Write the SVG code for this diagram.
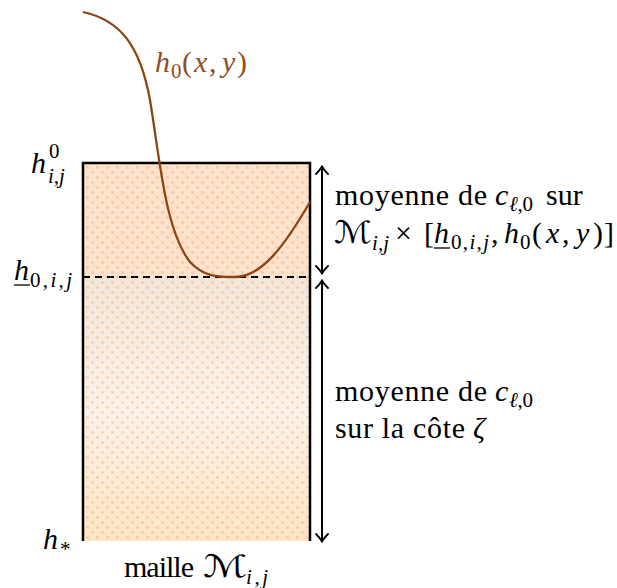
<svg xmlns="http://www.w3.org/2000/svg" width="617" height="588" viewBox="0 0 617 588">
<style>
.t{font-family:"Liberation Serif",serif;font-size:30px;fill:#000}
.i{font-style:italic}
.s{font-size:21px}
.cal{font-family:"DejaVu Serif","DejaVu Sans",serif;font-style:italic;font-size:31px}
.ax{stroke:#000;stroke-width:2;fill:none}
.br{fill:#8f4e24}
</style>
<defs>
<pattern id="dots" width="10" height="10" patternUnits="userSpaceOnUse">
<circle cx="2.5" cy="2.5" r="1.4" fill="#f08a30" fill-opacity="0.3"/>
<circle cx="7.5" cy="7.5" r="1.4" fill="#f08a30" fill-opacity="0.3"/>
</pattern>
<linearGradient id="low" x1="0" y1="0" x2="0" y2="1">
<stop offset="0" stop-color="#f4e6d9"/>
<stop offset="0.5" stop-color="#fcf2ea"/>
<stop offset="1" stop-color="#ffe5c4"/>
</linearGradient>
<marker id="ah" viewBox="0 0 10 14" markerWidth="10" markerHeight="14" refX="8" refY="7" orient="auto-start-reverse" markerUnits="userSpaceOnUse">
<path d="M1,1 Q5,5 8.5,7 Q5,9 1,13" fill="none" stroke="#000" stroke-width="1.8" stroke-linecap="round"/>
</marker>
</defs>

<g id="cell">
<rect x="83" y="163" width="227" height="114" fill="#fde3cd"/>
<rect x="83" y="163" width="227" height="114" fill="url(#dots)"/>
<rect x="83" y="277" width="227" height="264" fill="url(#low)"/>
<rect x="83" y="277" width="227" height="264" fill="url(#dots)"/>
<path d="M83,541 V163 H310 V541" fill="none" stroke="#000" stroke-width="2.5"/>
<line x1="83" y1="277" x2="310" y2="277" stroke="#000" stroke-width="2" stroke-dasharray="7,5"/>
</g>

<g id="curve">
<path d="M83,12 C120,20 140,45 150,100 C160,160 165,230 190,262 C205,278 220,277 235,277 C262,277 285,245 310,202" fill="none" stroke="#8b4513" stroke-width="2.3"/>
<text class="t br i" x="155" y="72">h</text>
<text class="t br s" x="171" y="78">0</text>
<text class="t br" x="182" y="72">(</text>
<text class="t br i" x="194" y="72">x</text>
<text class="t br" x="209" y="72">,</text>
<text class="t br i" x="222" y="72">y</text>
<text class="t br" x="237" y="72">)</text>
</g>

<g id="connectors">
<line class="ax" x1="322" y1="167" x2="322" y2="273" marker-start="url(#ah)" marker-end="url(#ah)"/>
<line class="ax" x1="322" y1="281" x2="322" y2="541" marker-start="url(#ah)" marker-end="url(#ah)"/>
</g>

<g id="label-hij0">
<text class="t i" x="31" y="173">h</text>
<text class="t s" x="49" y="158">0</text>
<text class="t s i" x="48" y="183">i,j</text>
</g>
<g id="label-h0ij">
<text class="t i" x="14" y="280">h</text>
<text class="t s" x="30" y="287" textLength="42" lengthAdjust="spacing">0,<tspan class="i">i,j</tspan></text>
<line x1="14" y1="285" x2="30" y2="285" stroke="#000" stroke-width="1.3"/>
</g>
<g id="label-hstar">
<text class="t i" x="43" y="549">h</text>
<text class="t s" x="60" y="556">*</text>
</g>
<g id="label-maille">
<text class="t" x="124" y="577" textLength="70" lengthAdjust="spacing">maille</text>
<text class="t cal" transform="translate(203,577) scale(1.35,1)">ℳ</text>
<text class="t s i" x="246" y="584" textLength="22" lengthAdjust="spacing">i,j</text>
</g>

<g id="label-upper">
<text class="t" x="335" y="205" textLength="152" lengthAdjust="spacing">moyenne de</text>
<text class="t i" x="495" y="205">c</text>
<text class="t s" x="509" y="211" textLength="24" lengthAdjust="spacing"><tspan class="i">ℓ</tspan>,0</text>
<text class="t" x="546" y="205">sur</text>
<text class="t cal" transform="translate(334,243) scale(1.15,1)">ℳ</text>
<text class="t s i" x="372" y="250" textLength="17" lengthAdjust="spacing">i,j</text>
<text class="t" x="395" y="243">×</text>
<text class="t" x="424" y="243">[</text>
<text class="t i" x="434" y="243">h</text>
<line x1="434" y1="248" x2="450" y2="248" stroke="#000" stroke-width="1.3"/>
<text class="t s" x="451" y="249" textLength="38" lengthAdjust="spacing">0,<tspan class="i">i,j</tspan></text>
<text class="t" x="491" y="243">,</text>
<text class="t i" x="504" y="243">h</text>
<text class="t s" x="520" y="249">0</text>
<text class="t" x="532" y="243">(</text>
<text class="t i" x="546" y="243">x</text>
<text class="t" x="562" y="243">,</text>
<text class="t i" x="576" y="243">y</text>
<text class="t" x="593" y="243">)</text>
<text class="t" x="604" y="243">]</text>
</g>

<g id="label-lower">
<text class="t" x="335" y="401" textLength="152" lengthAdjust="spacing">moyenne de</text>
<text class="t i" x="495" y="401">c</text>
<text class="t s" x="509" y="407" textLength="24" lengthAdjust="spacing"><tspan class="i">ℓ</tspan>,0</text>
<text class="t" x="335" y="438" textLength="130" lengthAdjust="spacing">sur la côte</text>
<text class="t i" x="473" y="438">ζ</text>
</g>
</svg>
